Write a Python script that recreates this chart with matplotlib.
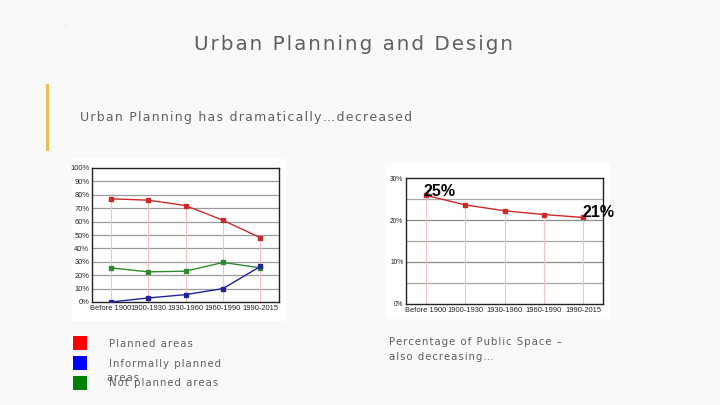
import matplotlib.pyplot as plt
from matplotlib.patches import Rectangle

# data
periods = ["Before 1900", "1900-1930", "1930-1960", "1960-1990", "1990-2015"]
planned = [77, 76, 72, 61, 48]
not_planned = [25.5, 22.5, 23, 29.5, 25.5]
informal = [0, 3, 5.5, 10, 26.5]
public_space = [25.9, 23.6, 22.2, 21.3, 20.6]

legend_labels = ["Planned areas", "Informally planned", "Not planned areas"]
legend_colors = ["#ff0000", "#0000ff", "#008000"]

W, H = 720, 405
bg = "#f9f9f9"
txt = "#5f5f5f"

fig = plt.figure(figsize=(7.2, 4.05), dpi=100, facecolor=bg)


def fx(px):
    return px / W


def fy(py):
    return 1 - py / H


def box(x0, y0, x1, y1, color):
    fig.patches.append(Rectangle((fx(x0), fy(y1)), fx(x1) - fx(x0), fy(y0) - fy(y1),
                                 transform=fig.transFigure, facecolor=color,
                                 edgecolor="none", zorder=-1))


def spaced(s):
    # loose letter spacing like the slide font
    return "\u200a".join(s)


# headings
fig.text(fx(60), fy(25), ">", color="#f0f0f0", fontsize=8, va="center")
fig.text(fx(353), fy(45), spaced("Urban Planning and Design"),
         color=txt, fontsize=14.3, ha="center", va="center")
box(45.5, 84, 49, 151, "#ecbc56")
fig.text(fx(80), fy(117), spaced("Urban Planning has dramatically\u2026decreased"), color=txt,
         fontsize=9.0, va="center")

# white panels behind the two chart images
box(72, 158, 286, 321, "white")
box(385, 163, 610, 319, "white")

narrow = dict(family="Liberation Sans")


def style(ax):
    ax.set_facecolor("white")
    for s in ax.spines.values():
        s.set_color("#222222")
        s.set_linewidth(1.0)
    ax.tick_params(length=0, pad=2, colors="#222222")
    ax.set_xlim(-0.5, 4.5)
    ax.set_xticks(range(len(periods)))
    ax.set_xticklabels(periods, fontsize=5.4, **narrow)


# left chart
ax1 = fig.add_axes([fx(92), fy(302), fx(279) - fx(92), fy(168) - fy(302)])
style(ax1)
ax1.set_ylim(0, 100)
ax1.set_yticks(range(0, 101, 10))
ax1.set_yticklabels([f"{v}%" for v in range(0, 101, 10)], fontsize=5.4, **narrow)
for v in range(10, 100, 10):
    ax1.axhline(v, color="#9a9a9a", lw=0.9, zorder=1)
ax1.vlines(range(5), 0, planned, color="#f2c4c4", lw=0.8, zorder=1)
ax1.plot(planned, color="#cc2a2a", lw=1, marker="s", ms=2.3, zorder=3)
ax1.plot(not_planned, color="#2e8a2e", lw=1, marker="s", ms=2.3, zorder=3)
ax1.plot(informal, color="#22229a", lw=1, marker="s", ms=2.3, zorder=3)

# right chart
ax2 = fig.add_axes([fx(406), fy(304), fx(603) - fx(406), fy(178) - fy(304)])
style(ax2)
ax2.set_ylim(0, 30)
ax2.set_yticks(range(0, 31, 10))
ax2.set_yticklabels([f"{v}%" for v in range(0, 31, 10)], fontsize=4.8, **narrow)
for v in range(5, 30, 5):
    ax2.axhline(v, color="#a8a8a8" if v % 10 else "#8a8a8a", lw=0.9, zorder=1)
ax2.vlines(range(5), 0, public_space, color="#f2c4c4", lw=0.8, zorder=1)
ax2.plot(public_space, color="#cc2a2a", lw=1, marker="s", ms=2.3, zorder=3)
ax2.text(-0.05, public_space[0] + 0.9, "25%", fontsize=11.5, fontweight="bold",
         va="center", ha="left", zorder=4, **narrow)
ax2.text(3.98, public_space[-1] + 1.2, "21%", fontsize=11.5, fontweight="bold",
         va="center", ha="left", clip_on=False, zorder=4, **narrow)

# legend on the left
for i, col in enumerate(legend_colors):
    y = 343 + 20 * i
    box(73, y - 7, 87, y + 7, col)
ty = [344, 364, 383]
for lab, y in zip(legend_labels, ty):
    fig.text(fx(109), fy(y), spaced(lab), color=txt, fontsize=7.3, va="center")
fig.text(fx(107), fy(378), spaced("areas"), color=txt, fontsize=7.3, va="center")

fig.text(fx(389), fy(342), spaced("Percentage of Public Space \u2013"), color=txt,
         fontsize=7.3, va="center")
fig.text(fx(389), fy(357), spaced("also decreasing\u2026"), color=txt, fontsize=7.3, va="center")

fig.savefig("out.png", dpi=100, facecolor=bg)
